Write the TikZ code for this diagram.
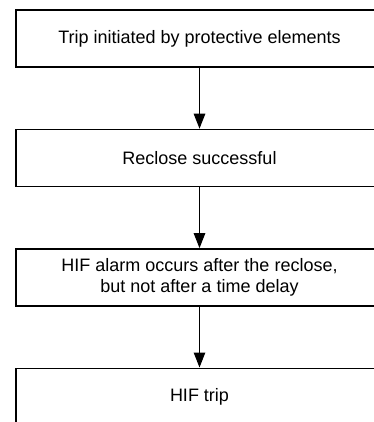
\documentclass[tikz,border=0pt]{standalone}
\usepackage{fontspec}
\setmainfont{Liberation Sans}
\usetikzlibrary{arrows.meta,positioning}

\begin{document}
\begin{tikzpicture}[
                    x=1pt,
                    y=1pt,
                    -{Triangle[length=15pt,width=11.5pt]},
                    line width=1.2pt,
                    node distance=61pt
                ]
                \useasboundingbox (0,0) rectangle (373,-422);

                \begin{scope}[
                        every node/.style={draw, rectangle, line width=1.4pt,
                            minimum width=367pt, minimum height=57pt,
                            align=center, inner sep=0pt,
                            font=\fontsize{18}{21.5}\selectfont}
                    ]
                    \node[] (trip) at (199.5,-38.5) {Trip initiated by protective elements} ;
                    \node[] (reclose) [below=of trip] {Reclose successful} ;
                    \node[] (alarm) [below=of reclose] {HIF alarm occurs after the reclose,\\but not after a time delay} ;
                    \node[] (hiftrip) [below=of alarm] {HIF trip} ;
                \end{scope}

                \path
                (trip) edge (reclose)
                (reclose) edge (alarm)
                (alarm) edge (hiftrip)
                ;
            \end{tikzpicture}
\end{document}
